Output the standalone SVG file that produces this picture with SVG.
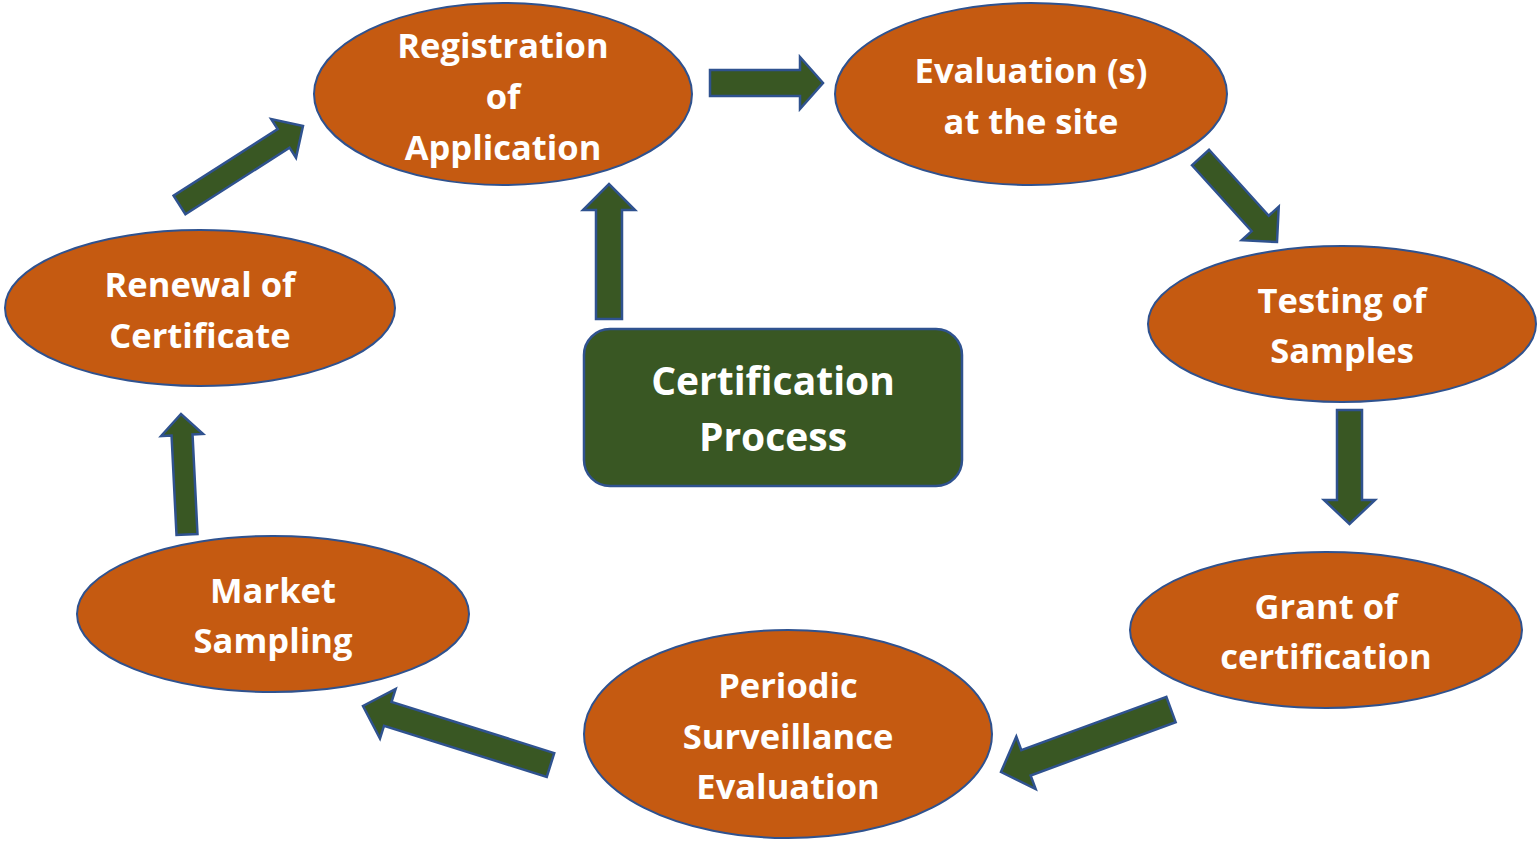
<svg xmlns="http://www.w3.org/2000/svg" width="1537" height="842" viewBox="0 0 1537 842">
<style>
.node{fill:#c55a11;stroke:#2f528f;stroke-width:2}
.box{fill:#395723;stroke:#2f528f;stroke-width:2.5}
.arr{fill:#395723;stroke:#2f528f;stroke-width:2.5;stroke-linejoin:miter}
.t{fill:#ffffff;font-family:"Open Sans","Liberation Sans",sans-serif;font-weight:700;font-size:34.5px;text-anchor:middle}
.tc{fill:#ffffff;font-family:"Open Sans","Liberation Sans",sans-serif;font-weight:700;font-size:39px;text-anchor:middle}
</style>
<rect width="1537" height="842" fill="#ffffff"/>
<g id="registration">
<ellipse class="node" cx="503" cy="94" rx="189" ry="91"/>
<text class="t" x="503" y="58">Registration</text>
<text class="t" x="503" y="109">of</text>
<text class="t" x="503" y="160">Application</text>
</g>
<g id="evaluation">
<ellipse class="node" cx="1031" cy="94" rx="196" ry="91"/>
<text class="t" x="1031" y="83">Evaluation (s)</text>
<text class="t" x="1031" y="134">at the site</text>
</g>
<g id="testing">
<ellipse class="node" cx="1342" cy="324" rx="194" ry="78"/>
<text class="t" x="1342" y="313">Testing of</text>
<text class="t" x="1342" y="363">Samples</text>
</g>
<g id="grant">
<ellipse class="node" cx="1326" cy="630" rx="196" ry="78"/>
<text class="t" x="1326" y="619">Grant of</text>
<text class="t" x="1326" y="669">certification</text>
</g>
<g id="periodic">
<ellipse class="node" cx="788" cy="734" rx="204" ry="104"/>
<text class="t" x="788" y="698">Periodic</text>
<text class="t" x="788" y="749">Surveillance</text>
<text class="t" x="788" y="799">Evaluation</text>
</g>
<g id="market">
<ellipse class="node" cx="273" cy="614" rx="196" ry="78"/>
<text class="t" x="273" y="603">Market</text>
<text class="t" x="273" y="653">Sampling</text>
</g>
<g id="renewal">
<ellipse class="node" cx="200" cy="308" rx="195" ry="78"/>
<text class="t" x="200" y="297">Renewal of</text>
<text class="t" x="200" y="348">Certificate</text>
</g>
<g id="center">
<rect class="box" x="584" y="329" width="378" height="157" rx="26" ry="26"/>
<text class="tc" x="773" y="395">Certification</text>
<text class="tc" x="773" y="451">Process</text>
</g>
<g id="connectors">
<polygon class="arr" points="710,96 800,96 800,109 823,83 800,57 800,70 710,70"/>
<polygon class="arr" points="622,319 622,210 635,210 609,184 583,210 596,210 596,319"/>
<polygon class="arr" points="1191.98,165.22 1251.7,231.19 1241.69,240.25 1277,242 1278.75,206.69 1268.74,215.75 1209.02,149.78"/>
<polygon class="arr" points="1337,410 1337,500 1324,500 1349.5,524 1375,500 1362,500 1362,410"/>
<polygon class="arr" points="1166.34,696.83 1021.31,750.15 1016.31,736.54 1001,772 1035.63,789.1 1030.63,775.49 1175.66,722.17"/>
<polygon class="arr" points="554.25,753.08 391.55,701.88 395.61,689 363,706 379.99,738.6 384.05,725.72 546.75,776.92"/>
<polygon class="arr" points="197.49,533.98 192.53,434.45 203.01,433.93 181,414 161.07,436.01 171.55,435.49 176.51,535.02"/>
<polygon class="arr" points="185.43,214.27 289.55,147.66 296.01,157.77 303,126 271.23,119.01 277.69,129.12 173.57,195.73"/>
</g>
</svg>
